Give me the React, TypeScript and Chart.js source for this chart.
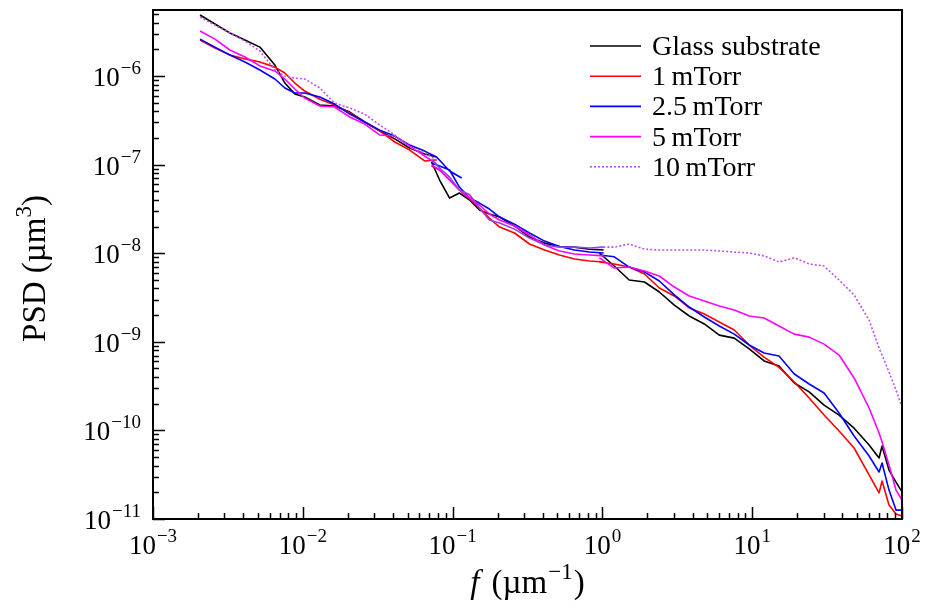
import React, { useEffect, useRef } from 'react';
import { Chart, registerables } from 'chart.js';

Chart.register(...registerables);

// ---------- data ----------
const seriesLabels = ['Glass substrate', '1\u2009mTorr', '2.5\u2009mTorr', '5\u2009mTorr', '10\u2009mTorr'];
const seriesColors = ['#000000', '#ff0000', '#0000ff', '#ff00ff', '#c04ff0'];

const xTickExps = [-3, -2, -1, 0, 1, 2];
const yTickExps = [-11, -10, -9, -8, -7, -6];

// spatial frequency grids (µm^-1) for the three stitched scan ranges
const fLow = [2.06e-3, 2.59e-3, 3.26e-3, 4.11e-3, 5.17e-3, 6.51e-3, 7.59e-3, 8.85e-3, 1.03e-2, 1.3e-2, 1.63e-2, 2.06e-2, 2.59e-2, 3.26e-2, 4.11e-2, 5.17e-2, 6.51e-2, 7.82e-2];
const fLowExt = [9.55e-2, 0.115];
const fMid = [7.24e-2, 8.19e-2, 9.55e-2, 0.111, 0.13, 0.151, 0.176, 0.206, 0.259, 0.326, 0.411, 0.517, 0.651, 0.819, 1.02];
const fHigh = [0.955, 1.2, 1.51, 1.91, 2.4, 3.02, 3.8, 4.79, 6.03, 7.59, 9.55, 12.0, 15.1, 19.1, 24.0, 30.2, 38.0, 47.9, 60.3, 70.3, 73.6, 81.9, 91.2, 100];

// PSD (µm^3)
const glassLow = [4.88e-6, 3.86e-6, 3.06e-6, 2.55e-6, 2.12e-6, 1.33e-6, 8.33e-7, 6.26e-7, 5.79e-7, 4.7e-7, 4.58e-7, 3.92e-7, 3.03e-7, 2.4e-7, 1.95e-7, 1.54e-7, 1.32e-7, 1.22e-7];
const glassMid = [1.07e-7, 6.7e-8, 4.19e-8, 4.78e-8, 3.98e-8, 3.07e-8, 2.77e-8, 2.56e-8, 2.03e-8, 1.52e-8, 1.3e-8, 1.19e-8, 1.17e-8, 1.11e-8, 1.085e-8];
const glassHigh = [1.005e-8, 7.17e-9, 4.98e-9, 4.73e-9, 3.65e-9, 2.6e-9, 1.955e-9, 1.59e-9, 1.19e-9, 1.1e-9, 8.3e-10, 6.08e-10, 5.34e-10, 3.43e-10, 2.72e-10, 1.93e-10, 1.49e-10, 1.06e-10, 6.84e-11, 4.88e-11, 6.66e-11, 3.57e-11, 2.61e-11, 2.02e-11];

const m1Low = [2.55e-6, 2.07e-6, 1.73e-6, 1.56e-6, 1.44e-6, 1.26e-6, 1.08e-6, 8.33e-7, 6.77e-7, 5.47e-7, 4.7e-7, 3.82e-7, 3.03e-7, 2.4e-7, 1.8e-7, 1.46e-7, 1.1e-7, 1.13e-7];
const m1Mid = [9.64e-8, 8.69e-8, 6.7e-8, 5.17e-8, 4.09e-8, 3.24e-8, 2.49e-8, 1.97e-8, 1.69e-8, 1.27e-8, 1.085e-8, 9.55e-9, 8.6e-9, 8.17e-9, 7.95e-9];
const m1High = [7.95e-9, 7.55e-9, 6.98e-9, 5.82e-9, 4.05e-9, 3.29e-9, 2.41e-9, 2.06e-9, 1.67e-9, 1.36e-9, 9.2e-10, 6.73e-10, 5.14e-10, 3.52e-10, 2.32e-10, 1.49e-10, 9.84e-11, 6.33e-11, 3.14e-11, 1.97e-11, 2.68e-11, 1.44e-11, 1.14e-11, 1.08e-11];

const m25Low = [2.61e-6, 2.12e-6, 1.73e-6, 1.44e-6, 1.17e-6, 9.25e-7, 7.32e-7, 6.43e-7, 6.43e-7, 5.79e-7, 4.82e-7, 3.72e-7, 3.03e-7, 2.45e-7, 2.1e-7, 1.66e-7, 1.42e-7, 1.22e-7, 8.46e-8, 7.05e-8];
const m25Mid = [1.04e-7, 9.64e-8, 8.69e-8, 5.58e-8, 4.19e-8, 3.68e-8, 3.15e-8, 2.56e-8, 2.13e-8, 1.69e-8, 1.37e-8, 1.19e-8, 1.085e-8, 1.03e-8, 1.005e-8];
const m25High = [9.55e-9, 9.11e-9, 6.98e-9, 6.13e-9, 4.86e-9, 3.38e-9, 2.47e-9, 1.905e-9, 1.51e-9, 1.22e-9, 9.2e-10, 7.49e-10, 6.9e-10, 4.33e-10, 3.34e-10, 2.64e-10, 1.57e-10, 8.64e-11, 5.14e-11, 3.39e-11, 4.28e-11, 2.12e-11, 1.26e-11, 1.26e-11];

const m5Low = [3.22e-6, 2.61e-6, 1.965e-6, 1.64e-6, 1.3e-6, 1.14e-6, 9.25e-7, 7.14e-7, 5.64e-7, 4.58e-7, 4.47e-7, 3.45e-7, 2.87e-7, 2.16e-7, 2.1e-7, 1.62e-7, 1.25e-7, 1.02e-7];
const m5Mid = [9.89e-8, 8.69e-8, 6.7e-8, 5.17e-8, 4.19e-8, 3.5e-8, 2.77e-8, 2.37e-8, 2.03e-8, 1.605e-8, 1.24e-8, 1.06e-8, 9.79e-9, 9.55e-9, 9.32e-9];
const m5High = [8.87e-9, 6.81e-9, 6.98e-9, 6.3e-9, 5.53e-9, 4.15e-9, 3.29e-9, 2.89e-9, 2.53e-9, 2.28e-9, 1.955e-9, 1.86e-9, 1.51e-9, 1.22e-9, 1.13e-9, 9.42e-10, 7.09e-10, 3.91e-10, 1.79e-10, 9.34e-11, 7.4e-11, 4.07e-11, 2.12e-11, 1.64e-11];

const m10Low = [4.63e-6, 3.76e-6, 3.06e-6, 2.48e-6, 1.915e-6, 1.17e-6, 1.0e-6, 9.47e-7, 9.25e-7, 7.32e-7, 4.95e-7, 4.36e-7, 3.72e-7, 2.8e-7, 2.16e-7, 1.58e-7, 1.35e-7, 1.13e-7];
const m10Mid = [1.13e-7, 9.16e-8, 7.22e-8, 5.17e-8, 4.56e-8, 3.24e-8, 2.37e-8, 2.19e-8, 1.87e-8, 1.48e-8, 1.24e-8, 1.17e-8, 1.17e-8, 1.145e-8, 1.17e-8];
const m10High = [1.17e-8, 1.17e-8, 1.27e-8, 1.11e-8, 1.085e-8, 1.085e-8, 1.085e-8, 1.085e-8, 1.06e-8, 1.03e-8, 1.005e-8, 9.32e-9, 7.95e-9, 8.87e-9, 7.55e-9, 7.17e-9, 4.98e-9, 3.38e-9, 1.76e-9, 8.5e-10, 7.09e-10, 4.56e-10, 2.86e-10, 1.84e-10];

// ---------- helpers ----------
type Pt = { x: number; y: number | null };
function buildPoints(segs: Array<[number[], number[]]>): Pt[] {
  const pts: Pt[] = [];
  segs.forEach(([xs, ys], i) => {
    if (i > 0) pts.push({ x: xs[0], y: null });
    xs.forEach((x, j) => pts.push({ x, y: ys[j] }));
  });
  return pts;
}

const FONT = "'Liberation Serif', 'Times New Roman', serif";
const TICK_SIZE = 27;
const SUP_SIZE = 19;

function powWidth(ctx: CanvasRenderingContext2D, exp: string) {
  ctx.font = `${TICK_SIZE}px ${FONT}`;
  const bw = ctx.measureText('10').width;
  ctx.font = `${SUP_SIZE}px ${FONT}`;
  const sw = ctx.measureText(exp).width;
  return { bw, sw };
}

function drawPow(ctx: CanvasRenderingContext2D, exp: string, left: number, baseline: number) {
  const { bw } = powWidth(ctx, exp);
  ctx.font = `${TICK_SIZE}px ${FONT}`;
  ctx.fillText('10', left, baseline);
  ctx.font = `${SUP_SIZE}px ${FONT}`;
  ctx.fillText(exp, left + bw + 1, baseline - 12);
}

const decorPlugin = {
  id: 'decor',
  afterDatasetsDraw(chart: any) {
    const { ctx, chartArea: a, scales } = chart;
    const xs = scales.x;
    const ys = scales.y;
    ctx.save();
    ctx.fillStyle = '#000';
    ctx.strokeStyle = '#000';
    ctx.textAlign = 'left';
    ctx.textBaseline = 'alphabetic';

    // ticks (inward, left and bottom)
    ctx.lineWidth = 1.5;
    ctx.beginPath();
    for (let i = 0; i < xTickExps.length; i++) {
      const d = xTickExps[i];
      for (let k = 1; k <= 9; k++) {
        const v = k * Math.pow(10, d);
        if (v > xs.max * 1.0001) break;
        const px = Math.round(xs.getPixelForValue(v)) + 0.5;
        const len = k === 1 ? 12 : 6;
        ctx.moveTo(px, a.bottom);
        ctx.lineTo(px, a.bottom - len);
      }
    }
    for (let i = 0; i < yTickExps.length; i++) {
      const d = yTickExps[i];
      for (let k = 1; k <= 9; k++) {
        const v = k * Math.pow(10, d);
        if (v > ys.max * 1.0001) break;
        const py = Math.round(ys.getPixelForValue(v)) + 0.5;
        const len = k === 1 ? 12 : 6;
        ctx.moveTo(a.left, py);
        ctx.lineTo(a.left + len, py);
      }
    }
    ctx.stroke();

    // frame
    ctx.lineWidth = 2;
    ctx.strokeRect(a.left, a.top, a.right - a.left, a.bottom - a.top);

    // x tick labels
    xTickExps.forEach((d) => {
      const exp = (d < 0 ? '\u2212' : '') + String(Math.abs(d));
      const { bw, sw } = powWidth(ctx, exp);
      const cx = xs.getPixelForValue(Math.pow(10, d));
      drawPow(ctx, exp, cx - (bw + sw + 1) / 2, 554);
    });
    // y tick labels
    yTickExps.forEach((d) => {
      const exp = '\u2212' + String(Math.abs(d));
      const { bw, sw } = powWidth(ctx, exp);
      const cy = ys.getPixelForValue(Math.pow(10, d));
      drawPow(ctx, exp, 141 - (bw + sw + 1), cy + 10);
    });

    // x title: f (µm^-1)
    const TS = 33;
    const parts: Array<[string, string, number, number]> = [
      ['f', `italic ${TS}px ${FONT}`, 0, 12],
      ['(\u00b5m', `${TS}px ${FONT}`, 0, 1],
      ['\u22121', `${Math.round(TS * 0.7)}px ${FONT}`, -14, 1],
      [')', `${TS}px ${FONT}`, 0, 0],
    ];
    let total = 0;
    parts.forEach(([t, f, , gap]) => { ctx.font = f; total += ctx.measureText(t).width + gap; });
    let xx = (a.left + a.right) / 2 - total / 2;
    parts.forEach(([t, f, dy, gap]) => {
      ctx.font = f;
      ctx.fillText(t, xx, 593 + dy);
      xx += ctx.measureText(t).width + gap;
    });

    // y title: PSD (µm^3)
    const yparts: Array<[string, string, number]> = [
      ['PSD (\u00b5m', `${TS}px ${FONT}`, 0],
      ['3', `${Math.round(TS * 0.7)}px ${FONT}`, -14],
      [')', `${TS}px ${FONT}`, 0],
    ];
    let ytotal = 0;
    yparts.forEach(([t, f]) => { ctx.font = f; ytotal += ctx.measureText(t).width; });
    ctx.save();
    ctx.translate(45, (a.top + a.bottom) / 2 + 4);
    ctx.rotate(-Math.PI / 2);
    let yy = -ytotal / 2;
    yparts.forEach(([t, f, dy]) => {
      ctx.font = f;
      ctx.fillText(t, yy, dy);
      yy += ctx.measureText(t).width;
    });
    ctx.restore();

    // legend
    seriesLabels.forEach((lab, i) => {
      const ry = 46 + i * 30.2;
      ctx.save();
      ctx.strokeStyle = seriesColors[i];
      ctx.lineWidth = 1.6;
      if (i === 4) ctx.setLineDash([2, 2]);
      ctx.beginPath();
      ctx.moveTo(590, ry);
      ctx.lineTo(641, ry);
      ctx.stroke();
      ctx.restore();
      ctx.font = `28px ${FONT}`;
      ctx.fillText(lab, 652, ry + 9);
    });

    ctx.restore();
  },
};

export default function App() {
  const ref = useRef<HTMLCanvasElement | null>(null);
  useEffect(() => {
    document.body.style.margin = '0';
    const canvas = ref.current;
    if (!canvas) return;
    const segsAll: Array<Array<[number[], number[]]>> = [
      [[fLow, glassLow], [fMid, glassMid], [fHigh, glassHigh]],
      [[fLow, m1Low], [fMid, m1Mid], [fHigh, m1High]],
      [[[...fLow, ...fLowExt], m25Low], [fMid, m25Mid], [fHigh, m25High]],
      [[fLow, m5Low], [fMid, m5Mid], [fHigh, m5High]],
      [[fLow, m10Low], [fMid, m10Mid], [fHigh, m10High]],
    ];
    const midStart = fLow.length + 1;
    const midEnd = midStart + fMid.length - 1;
    const chart = new Chart(canvas, {
      type: 'line',
      data: {
        datasets: seriesLabels.map((label, i) => ({
          label,
          data: buildPoints(segsAll[i]) as any,
          borderColor: seriesColors[i],
          backgroundColor: seriesColors[i],
          borderWidth: 1.6,
          borderDash: i === 4 ? [2, 2] : [],
          pointRadius: 0,
          tension: 0,
          spanGaps: false,
          fill: false,
          order: 4 - i,
          borderJoinStyle: 'round' as const,
          segment: i === 4 ? {
            borderDash: (c: any) => (c.p0DataIndex >= midStart && c.p1DataIndex <= midEnd ? [] : undefined),
            borderColor: (c: any) => (c.p0DataIndex >= midStart && c.p1DataIndex <= midEnd ? '#9a3cf0' : undefined),
          } : undefined,
        })),
      },
      options: {
        animation: false,
        responsive: false,
        devicePixelRatio: 1,
        layout: { padding: { left: 153, right: 32, top: 10, bottom: 90 } },
        plugins: { legend: { display: false }, tooltip: { enabled: false } },
        scales: {
          x: { type: 'logarithmic', min: 1e-3, max: 1e2, display: false },
          y: { type: 'logarithmic', min: 1e-11, max: 5.56e-6, display: false },
        },
      },
      plugins: [decorPlugin],
    });
    return () => chart.destroy();
  }, []);
  return (
    <div style={{ width: 934, height: 609, background: '#fff' }}>
      <canvas ref={ref} width={934} height={609} />
    </div>
  );
}
